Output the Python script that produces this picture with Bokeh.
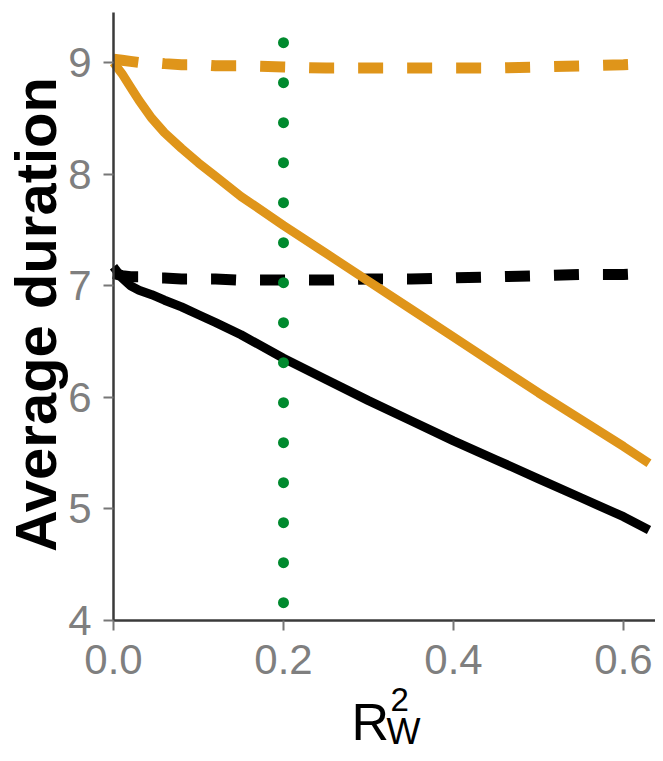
from bokeh.plotting import figure
from bokeh.models import Range1d, Label, FixedTicker, LinearAxis, Grid
from bokeh.embed import file_html
from bokeh.resources import INLINE

# ---- data ----
r2w = [0.0, 0.01, 0.02, 0.03, 0.045, 0.06, 0.08, 0.1, 0.12, 0.15, 0.2,
       0.25, 0.3, 0.35, 0.4, 0.45, 0.5, 0.55, 0.6, 0.63]
orange_solid = [9.0, 8.9, 8.78, 8.66, 8.5, 8.37, 8.23, 8.1, 7.98, 7.8, 7.54,
                7.29, 7.04, 6.79, 6.54, 6.29, 6.04, 5.8, 5.56, 5.41]
black_solid = [7.17, 7.07, 7.0, 6.96, 6.92, 6.87, 6.81, 6.74, 6.67, 6.56, 6.35,
               6.16, 5.97, 5.79, 5.61, 5.44, 5.27, 5.10, 4.93, 4.81]
orange_dashed = [9.03, 9.02, 9.01, 9.0, 9.0, 8.99, 8.98, 8.98, 8.97, 8.97, 8.96,
                 8.95, 8.95, 8.95, 8.95, 8.95, 8.96, 8.97, 8.98, 8.99]
black_dashed = [7.11, 7.09, 7.08, 7.08, 7.07, 7.07, 7.06, 7.06, 7.06, 7.05, 7.05,
                7.05, 7.06, 7.06, 7.07, 7.08, 7.09, 7.10, 7.10, 7.11]
vline_x = [0.2, 0.2]
vline_y = [4.16, 9.18]

x_ticks = [0.0, 0.2, 0.4, 0.6]
x_tick_labels = ["0.0", "0.2", "0.4", "0.6"]
y_ticks = [4, 5, 6, 7, 8, 9]
y_tick_labels = ["4", "5", "6", "7", "8", "9"]

ORANGE = "#DF951A"
GREEN = "#008A2E"
FONT = "Liberation Sans"

W, H = 655, 753
PX_X = 850.0     # pixels per x unit
PX_Y = 111.6     # pixels per y unit
X0 = 113         # canvas x of x=0
Y4 = 620         # canvas y of y=4

p = figure(width=W, height=H, output_backend="svg", toolbar_location=None,
           x_range=Range1d(-X0 / PX_X, (W - X0) / PX_X),
           y_range=Range1d(4 - (H - Y4) / PX_Y, 4 + Y4 / PX_Y),
           x_axis_location=None, y_axis_location=None,
           min_border=0)
p.center = [c for c in p.center if not isinstance(c, Grid)]
p.outline_line_color = None
p.background_fill_color = "white"
p.border_fill_color = "white"

p.line(r2w, orange_dashed, line_color=ORANGE, line_width=11, line_dash="25 24")
p.line(r2w, black_dashed, line_color="black", line_width=11, line_dash="25 24")
p.line(r2w, orange_solid, line_color=ORANGE, line_width=9)
p.line(r2w, black_solid, line_color="black", line_width=9)
p.line(vline_x, vline_y, line_color=GREEN, line_width=11, line_dash="0 40",
       line_cap="round")

xaxis = LinearAxis(fixed_location=4, bounds=(0, (W - X0) / PX_X),
                   ticker=FixedTicker(ticks=x_ticks))
yaxis = LinearAxis(fixed_location=0, bounds=(4, 9.448),
                   ticker=FixedTicker(ticks=y_ticks))
for ax in (xaxis, yaxis):
    ax.axis_line_color = "#3a3a3a"
    ax.axis_line_width = 2.5
    ax.major_tick_line_color = "#777777"
    ax.major_tick_line_width = 2
    ax.major_tick_out = 10
    ax.major_tick_in = 0
    ax.minor_tick_line_color = None
    ax.major_label_text_color = "#7f7f7f"
    ax.major_label_text_font = FONT
    ax.major_label_text_font_size = "42px"

xaxis.major_label_overrides = dict(zip(x_ticks, x_tick_labels))
xaxis.major_label_standoff = 14
yaxis.major_label_overrides = dict(zip(y_ticks, y_tick_labels))
yaxis.major_label_standoff = 12
p.add_layout(xaxis, "below")
p.add_layout(yaxis, "left")

# axis titles as text labels (screen units measured from the frame's bottom-left)
p.add_layout(Label(x=35, y=H - 314, x_units="screen", y_units="screen",
                   text="Average duration", angle=90, angle_units="deg",
                   text_font=FONT, text_font_size="58px", text_font_style="bold",
                   text_color="black", text_align="center",
                   text_baseline="middle"))
p.add_layout(Label(x=351, y=H - 721, x_units="screen", y_units="screen", text="R",
                   text_font=FONT, text_font_size="52px", text_color="black",
                   text_baseline="middle"))
p.add_layout(Label(x=390, y=H - 699, x_units="screen", y_units="screen", text="2",
                   text_font=FONT, text_font_size="33px", text_color="black",
                   text_baseline="middle"))
p.add_layout(Label(x=386, y=H - 731, x_units="screen", y_units="screen", text="W",
                   text_font=FONT, text_font_size="36px", text_color="black",
                   text_baseline="middle"))

open("out.html", "w").write(file_html(p, INLINE))
